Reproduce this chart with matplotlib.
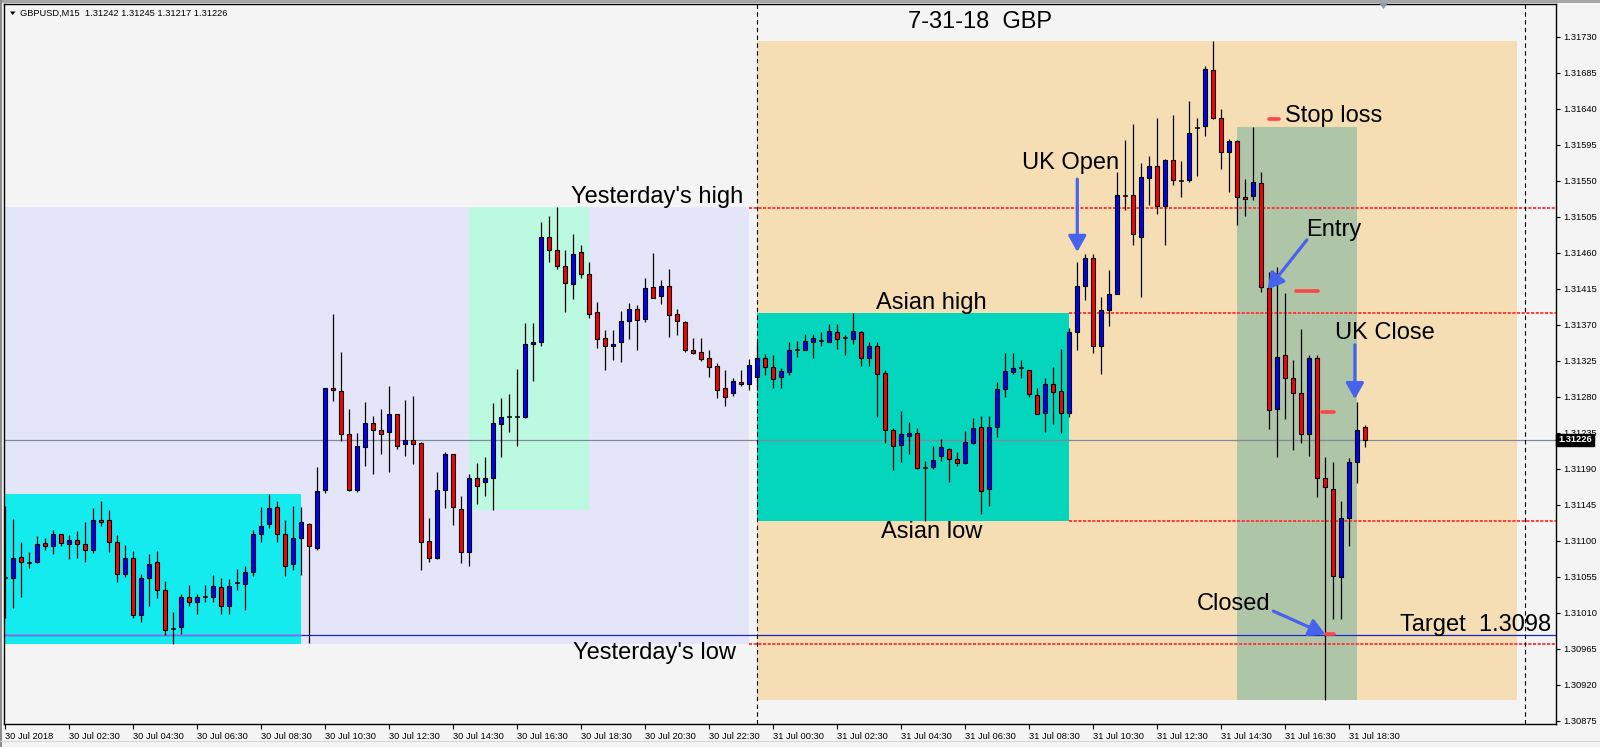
import matplotlib
matplotlib.use("Agg")
import matplotlib.pyplot as plt
import matplotlib.transforms as mtransforms
from matplotlib.patches import Rectangle, Polygon
import pandas as pd

# GBPUSD M15 candles, 30 Jul 00:30 -> 31 Jul 19:00
first_bar = "2018-07-30 00:30"

opens = [
    1.31053, 1.31053, 1.31080, 1.31073, 1.31073, 1.31097, 1.31094, 1.31108, 1.31096, 1.31101,
    1.31096, 1.31089, 1.31126, 1.31126, 1.31098, 1.31059, 1.31078, 1.31007, 1.31053, 1.31074,
    1.31038, 1.30990, 1.30992, 1.31030, 1.31024, 1.31030, 1.31030, 1.31042, 1.31019, 1.31047,
    1.31046, 1.31061, 1.31108, 1.31121, 1.31142, 1.31108, 1.31071, 1.31104, 1.31121, 1.31091,
    1.31163, 1.31291, 1.31287, 1.31234, 1.31163, 1.31217, 1.31247, 1.31238, 1.31236, 1.31258,
    1.31221, 1.31226, 1.31222, 1.31100, 1.31078, 1.31163, 1.31208, 1.31140, 1.31086, 1.31179,
    1.31174, 1.31178, 1.31246, 1.31255, 1.31255, 1.31255, 1.31346, 1.31348, 1.31480, 1.31463,
    1.31443, 1.31421, 1.31461, 1.31434, 1.31386, 1.31353, 1.31343, 1.31348, 1.31375, 1.31390,
    1.31377, 1.31417, 1.31406, 1.31419, 1.31384, 1.31374, 1.31339, 1.31336, 1.31328, 1.31318,
    1.31291, 1.31285, 1.31299, 1.31296, 1.31305, 1.31329, 1.31317, 1.31305, 1.31311, 1.31339,
    1.31339, 1.31349, 1.31350, 1.31349, 1.31361, 1.31353, 1.31352, 1.31361, 1.31329, 1.31344,
    1.31310, 1.31239, 1.31220, 1.31231, 1.31235, 1.31191, 1.31192, 1.31206, 1.31215, 1.31202,
    1.31197, 1.31222, 1.31242, 1.31165, 1.31242, 1.31290, 1.31311, 1.31316, 1.31313, 1.31282,
    1.31260, 1.31296, 1.31287, 1.31260, 1.31361, 1.31419, 1.31453, 1.31343, 1.31389, 1.31409,
    1.31532, 1.31532, 1.31480, 1.31553, 1.31568, 1.31518, 1.31576, 1.31550, 1.31551, 1.31616,
    1.31618, 1.31689, 1.31628, 1.31586, 1.31600, 1.31530, 1.31531, 1.31547, 1.31416, 1.31265,
    1.31332, 1.31303, 1.31285, 1.31234, 1.31329, 1.31178, 1.31165, 1.31055, 1.31128, 1.31198,
    1.31242,
]
highs = [
    1.31143, 1.31127, 1.31098, 1.31086, 1.31106, 1.31103, 1.31114, 1.31109, 1.31107, 1.31112,
    1.31124, 1.31141, 1.31150, 1.31139, 1.31107, 1.31095, 1.31087, 1.31059, 1.31084, 1.31087,
    1.31050, 1.31011, 1.31034, 1.31045, 1.31034, 1.31045, 1.31057, 1.31053, 1.31052, 1.31065,
    1.31068, 1.31114, 1.31142, 1.31159, 1.31150, 1.31126, 1.31144, 1.31142, 1.31122, 1.31192,
    1.31291, 1.31384, 1.31336, 1.31265, 1.31235, 1.31274, 1.31256, 1.31265, 1.31294, 1.31259,
    1.31276, 1.31281, 1.31223, 1.31128, 1.31186, 1.31211, 1.31209, 1.31156, 1.31183, 1.31197,
    1.31205, 1.31272, 1.31279, 1.31283, 1.31315, 1.31372, 1.31372, 1.31499, 1.31506, 1.31517,
    1.31464, 1.31483, 1.31470, 1.31448, 1.31398, 1.31363, 1.31363, 1.31387, 1.31397, 1.31395,
    1.31429, 1.31460, 1.31426, 1.31440, 1.31390, 1.31375, 1.31354, 1.31353, 1.31338, 1.31322,
    1.31313, 1.31304, 1.31314, 1.31327, 1.31349, 1.31334, 1.31332, 1.31316, 1.31349, 1.31350,
    1.31358, 1.31358, 1.31361, 1.31371, 1.31371, 1.31357, 1.31385, 1.31362, 1.31349, 1.31349,
    1.31313, 1.31241, 1.31262, 1.31248, 1.31241, 1.31200, 1.31218, 1.31227, 1.31216, 1.31211,
    1.31237, 1.31254, 1.31256, 1.31256, 1.31299, 1.31335, 1.31335, 1.31326, 1.31314, 1.31291,
    1.31304, 1.31317, 1.31340, 1.31366, 1.31448, 1.31459, 1.31458, 1.31405, 1.31438, 1.31561,
    1.31601, 1.31621, 1.31572, 1.31581, 1.31628, 1.31577, 1.31632, 1.31575, 1.31650, 1.31629,
    1.31693, 1.31725, 1.31640, 1.31602, 1.31601, 1.31552, 1.31617, 1.31561, 1.31436, 1.31442,
    1.31410, 1.31326, 1.31365, 1.31332, 1.31332, 1.31205, 1.31198, 1.31150, 1.31203, 1.31274,
    1.31245,
]
lows = [
    1.31003, 1.31016, 1.31030, 1.31066, 1.31072, 1.31088, 1.31084, 1.31094, 1.31077, 1.31079,
    1.31073, 1.31085, 1.31118, 1.31086, 1.31048, 1.31055, 1.31004, 1.30998, 1.31019, 1.31029,
    1.30982, 1.30971, 1.30984, 1.31018, 1.31009, 1.31024, 1.31024, 1.31009, 1.31009, 1.31039,
    1.31014, 1.31056, 1.31098, 1.31116, 1.31099, 1.31056, 1.31064, 1.31057, 1.30972, 1.31089,
    1.31160, 1.31275, 1.31225, 1.31162, 1.31161, 1.31194, 1.31184, 1.31209, 1.31186, 1.31215,
    1.31206, 1.31196, 1.31063, 1.31073, 1.31077, 1.31141, 1.31120, 1.31072, 1.31068, 1.31146,
    1.31156, 1.31138, 1.31205, 1.31236, 1.31218, 1.31254, 1.31300, 1.31343, 1.31449, 1.31440,
    1.31386, 1.31402, 1.31428, 1.31379, 1.31341, 1.31313, 1.31326, 1.31324, 1.31352, 1.31338,
    1.31374, 1.31404, 1.31396, 1.31355, 1.31357, 1.31336, 1.31334, 1.31325, 1.31305, 1.31279,
    1.31268, 1.31281, 1.31293, 1.31289, 1.31288, 1.31307, 1.31291, 1.31291, 1.31307, 1.31330,
    1.31338, 1.31328, 1.31344, 1.31348, 1.31340, 1.31332, 1.31346, 1.31318, 1.31319, 1.31255,
    1.31222, 1.31188, 1.31198, 1.31208, 1.31190, 1.31125, 1.31190, 1.31200, 1.31173, 1.31193,
    1.31196, 1.31221, 1.31134, 1.31143, 1.31230, 1.31280, 1.31308, 1.31304, 1.31280, 1.31258,
    1.31236, 1.31246, 1.31235, 1.31255, 1.31338, 1.31401, 1.31335, 1.31309, 1.31369, 1.31408,
    1.31513, 1.31470, 1.31405, 1.31520, 1.31509, 1.31470, 1.31545, 1.31530, 1.31549, 1.31556,
    1.31606, 1.31627, 1.31565, 1.31536, 1.31495, 1.31506, 1.31526, 1.31411, 1.31240, 1.31205,
    1.31252, 1.31214, 1.31222, 1.31206, 1.31155, 1.30901, 1.31002, 1.31002, 1.31093, 1.31172,
    1.31217,
]
closes = [
    1.31053, 1.31078, 1.31073, 1.31072, 1.31096, 1.31093, 1.31108, 1.31097, 1.31101, 1.31096,
    1.31089, 1.31126, 1.31124, 1.31098, 1.31059, 1.31079, 1.31007, 1.31053, 1.31071, 1.31039,
    1.30989, 1.30989, 1.31030, 1.31024, 1.31030, 1.31030, 1.31043, 1.31019, 1.31044, 1.31047,
    1.31061, 1.31108, 1.31119, 1.31141, 1.31109, 1.31069, 1.31104, 1.31123, 1.31093, 1.31162,
    1.31291, 1.31288, 1.31234, 1.31163, 1.31219, 1.31247, 1.31239, 1.31234, 1.31258, 1.31219,
    1.31226, 1.31221, 1.31098, 1.31078, 1.31163, 1.31209, 1.31142, 1.31086, 1.31179, 1.31168,
    1.31178, 1.31247, 1.31255, 1.31255, 1.31255, 1.31346, 1.31348, 1.31480, 1.31463, 1.31443,
    1.31422, 1.31459, 1.31433, 1.31384, 1.31352, 1.31343, 1.31346, 1.31375, 1.31390, 1.31376,
    1.31416, 1.31404, 1.31418, 1.31382, 1.31375, 1.31339, 1.31335, 1.31327, 1.31317, 1.31289,
    1.31280, 1.31300, 1.31296, 1.31320, 1.31329, 1.31317, 1.31302, 1.31312, 1.31339, 1.31339,
    1.31350, 1.31353, 1.31350, 1.31362, 1.31352, 1.31353, 1.31362, 1.31329, 1.31343, 1.31309,
    1.31239, 1.31218, 1.31233, 1.31235, 1.31191, 1.31191, 1.31201, 1.31217, 1.31202, 1.31197,
    1.31223, 1.31241, 1.31162, 1.31242, 1.31290, 1.31312, 1.31316, 1.31316, 1.31283, 1.31259,
    1.31296, 1.31286, 1.31260, 1.31361, 1.31419, 1.31453, 1.31344, 1.31389, 1.31409, 1.31532,
    1.31531, 1.31483, 1.31555, 1.31569, 1.31518, 1.31576, 1.31551, 1.31550, 1.31610, 1.31616,
    1.31690, 1.31628, 1.31586, 1.31600, 1.31530, 1.31527, 1.31548, 1.31417, 1.31264, 1.31330,
    1.31303, 1.31285, 1.31234, 1.31329, 1.31178, 1.31167, 1.31056, 1.31128, 1.31199, 1.31238,
    1.31226,
]

tick_times = [
    "2018-07-30 00:30", "2018-07-30 02:30", "2018-07-30 04:30", "2018-07-30 06:30",
    "2018-07-30 08:30", "2018-07-30 10:30", "2018-07-30 12:30", "2018-07-30 14:30",
    "2018-07-30 16:30", "2018-07-30 18:30", "2018-07-30 20:30", "2018-07-30 22:30",
    "2018-07-31 00:30", "2018-07-31 02:30", "2018-07-31 04:30", "2018-07-31 06:30",
    "2018-07-31 08:30", "2018-07-31 10:30", "2018-07-31 12:30", "2018-07-31 14:30",
    "2018-07-31 16:30", "2018-07-31 18:30",
]
tick_labels = [
    "30 Jul 2018", "30 Jul 02:30", "30 Jul 04:30", "30 Jul 06:30", "30 Jul 08:30",
    "30 Jul 10:30", "30 Jul 12:30", "30 Jul 14:30", "30 Jul 16:30", "30 Jul 18:30",
    "30 Jul 20:30", "30 Jul 22:30", "31 Jul 00:30", "31 Jul 02:30", "31 Jul 04:30",
    "31 Jul 06:30", "31 Jul 08:30", "31 Jul 10:30", "31 Jul 12:30", "31 Jul 14:30",
    "31 Jul 16:30", "31 Jul 18:30",
]
price_ticks = [
    1.30875, 1.30920, 1.30965, 1.31010, 1.31055, 1.31100, 1.31145, 1.31190, 1.31235,
    1.31280, 1.31325, 1.31370, 1.31415, 1.31460, 1.31505, 1.31550, 1.31595, 1.31640,
    1.31685, 1.31730,
]

# drawn objects on the chart: (start, end, low, high)
yday_box = ("2018-07-30 00:00", "2018-07-30 23:45", 1.30971, 1.31517)
asia1_box = ("2018-07-30 00:00", "2018-07-30 09:45", 1.30971, 1.31159)
london1_box = ("2018-07-30 15:00", "2018-07-30 18:45", 1.31138, 1.31517)
today_box = ("2018-07-31 00:00", "2018-07-31 23:45", 1.30901, 1.31725)
asia2_box = ("2018-07-31 00:00", "2018-07-31 09:45", 1.31125, 1.31385)
trade_box = ("2018-07-31 15:00", "2018-07-31 18:45", 1.30901, 1.31617)

yday_high = 1.31516
yday_low = 1.30971
asian_high = 1.31385
asian_low = 1.31125
target = 1.30982

day0 = pd.Timestamp("2018-07-30 00:00")


def bar(t):
    return (pd.Timestamp(t) - day0) / pd.Timedelta(minutes=15)


W, H = 1600, 747
BG = "#f4f4f4"
BLUE_ARROW = "#4763ee"
MARK_RED = "#ff4545"
FONT = "Liberation Sans"

fig = plt.figure(figsize=(W / 100, H / 100), dpi=100, facecolor=BG)
ax = fig.add_axes([4 / W, 23 / H, 1552 / W, 720 / H], facecolor=BG)
ax.set_xlim(1.8375, 195.84)
ax.set_ylim(1.308709, 1.317709)

# background boxes
box_colors = [
    (yday_box, "#e5e5f9"),
    (asia1_box, "#14ebef"),
    (london1_box, "#bcf9e1"),
    (today_box, "#f5deb3"),
    (asia2_box, "#03d6bd"),
    (trade_box, "#afc5a8"),
]
for (t0, t1, lo, hi), col in box_colors:
    x0, x1 = bar(t0), bar(t1)
    ax.add_patch(Rectangle((x0, lo), x1 - x0, hi - lo, facecolor=col,
                           edgecolor="none", zorder=1))

# horizontal levels
last_close = closes[-1]
ax.axhline(last_close, color="#808a9a", lw=0.9, zorder=2)
ax.axhline(target, color="#1a26c8", lw=0.9, zorder=2)
ax.hlines(target, 0, bar(asia1_box[1]), color="#b64cf0", lw=0.9, zorder=2)

dotted = (0, (1.6, 0.8))
right_edge = 196
for level, start in [(yday_high, "2018-07-30 23:45"), (yday_low, "2018-07-30 23:45"),
                     (asian_high, "2018-07-31 09:45"), (asian_low, "2018-07-31 09:45")]:
    ax.hlines(level, bar(start), right_edge, color="#ff3b3b", lw=1.4,
              linestyle=dotted, zorder=3)

# day separator + chart shift line
for t in ["2018-07-31 00:00", "2018-08-01 00:00"]:
    ax.axvline(bar(t), color="black", lw=0.8, linestyle=(0, (4, 3)), zorder=3)

# candles
xs = [bar(t) for t in pd.date_range(first_bar, periods=len(opens), freq="15min")]
BW = 0.55
for x, o, h, l, c in zip(xs, opens, highs, lows, closes):
    ax.vlines(x, l, h, color="black", lw=0.9, zorder=5)
    if abs(c - o) < 0.000015:
        ax.hlines((o + c) / 2, x - BW / 2 - 0.05, x + BW / 2 + 0.05,
                  color="black", lw=1.1, zorder=6)
    else:
        fc = "#0000ff" if c > o else "#ff0000"
        ax.add_patch(Rectangle((x - BW / 2, min(o, c)), BW, abs(c - o),
                               facecolor=fc, edgecolor="black", lw=0.8, zorder=6))

# trade markers
for y, xa, xb in [(1.31627, 160.0, 161.2), (1.31412, 163.3, 166.1),
                  (1.31261, 166.6, 168.1), (1.30984, 167.1, 168.1)]:
    ax.plot([xa, xb], [y, y], color=MARK_RED, lw=2.6, solid_capstyle="round", zorder=8)

# arrows
arrow_style = dict(arrowstyle="-|>,head_length=0.8,head_width=0.45", color=BLUE_ARROW,
                   lw=2.3, shrinkA=0, shrinkB=0, mutation_scale=12)
for (xa, ya), (xb, yb) in [((136.0, 1.31552), (136.0, 1.31461)),
                           ((164.7, 1.31476), (159.8, 1.31414)),
                           ((170.7, 1.31345), (170.7, 1.31277)),
                           ((160.5, 1.31012), (167.0, 1.30983))]:
    ax.annotate("", xy=(xb, yb), xytext=(xa, ya), arrowprops=arrow_style, zorder=9)

# labels on the chart
notes = [
    (123.9, 1.31748, "7-31-18  GBP"),
    (83.5, 1.31530, "Yesterday's high"),
    (83.2, 1.30960, "Yesterday's low"),
    (117.8, 1.31397, "Asian high"),
    (117.8, 1.31111, "Asian low"),
    (135.1, 1.31572, "UK Open"),
    (168.1, 1.31631, "Stop loss"),
    (168.0, 1.31489, "Entry"),
    (174.5, 1.31360, "UK Close"),
    (155.5, 1.31021, "Closed"),
    (185.8, 1.30995, "Target  1.3098"),
]
for x, y, s in notes:
    ax.text(x, y, s, ha="center", va="center", fontsize=17, family=FONT,
            color="black", zorder=10)

# axes
for sp in ax.spines.values():
    sp.set_color("black")
    sp.set_linewidth(1.0)
ax.set_xticks([bar(t) for t in tick_times])
ax.set_xticklabels(tick_labels, ha="left", fontsize=6.7, family=FONT)
ax.tick_params(axis="x", direction="out", length=3.5, width=0.8, pad=2.5)
ax.yaxis.tick_right()
ax.set_yticks(price_ticks)
ax.set_yticklabels([f"{p:.5f}" for p in price_ticks], fontsize=6.7, family=FONT)
ax.tick_params(axis="y", direction="out", length=3, width=0.8, pad=2)

# current price tag
trans = mtransforms.blended_transform_factory(ax.transAxes, ax.transData)
ax.text(1.0013, last_close, f"{last_close:.5f}", transform=trans, ha="left",
        va="center", fontsize=6.7, family=FONT, color="white", fontweight="bold",
        bbox=dict(boxstyle="square,pad=0.2", fc="black", ec="black"),
        clip_on=False, zorder=12)

# window chrome
fig.add_artist(Rectangle((0, 1 - 3 / H), 1, 3 / H, transform=fig.transFigure,
                         facecolor="#a6a6a6", edgecolor="none"))
fig.add_artist(Rectangle((0, 0), 2 / W, 1, transform=fig.transFigure,
                         facecolor="#8c8c8c", edgecolor="none"))
fig.add_artist(Rectangle((0, 5 / H), 1, 1 / H, transform=fig.transFigure,
                         facecolor="#d6d6d6", edgecolor="none"))
fig.add_artist(Polygon([(10 / W, 1 - 11.5 / H), (15.5 / W, 1 - 11.5 / H),
                        (12.75 / W, 1 - 15 / H)], closed=True,
                       transform=fig.transFigure, facecolor="black", edgecolor="none"))
fig.add_artist(Polygon([(1379 / W, 1 - 3 / H), (1388 / W, 1 - 3 / H),
                        (1383.5 / W, 1 - 9 / H)], closed=True,
                       transform=fig.transFigure, facecolor="#8a9aaa", edgecolor="none"))
fig.text(20.5 / W, 1 - 13 / H, "GBPUSD,M15  1.31242 1.31245 1.31217 1.31226",
         ha="left", va="center", fontsize=6.7, family=FONT, color="black")

fig.savefig("out.png", dpi=100, facecolor=BG)
